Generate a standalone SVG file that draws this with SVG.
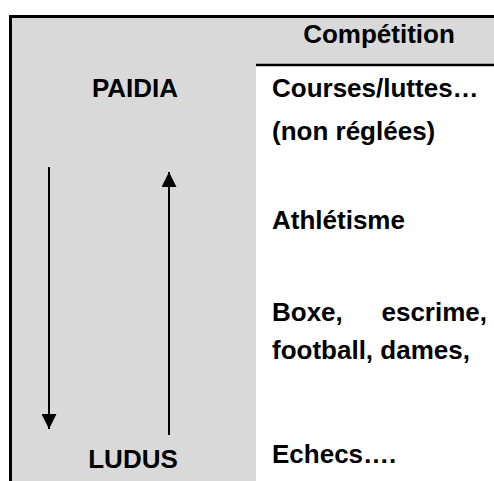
<svg xmlns="http://www.w3.org/2000/svg" width="494" height="481" viewBox="0 0 494 481">
<style>
text{font-family:"Liberation Sans",Arial,sans-serif;font-weight:bold;font-size:26px;fill:#000}
.c{text-anchor:middle}
.ln{stroke:#000;stroke-width:2;fill:none}
</style>
<defs>
<marker id="ah" markerWidth="16" markerHeight="15" refX="15" refY="7.5" orient="auto" markerUnits="userSpaceOnUse">
<path d="M0,0 L15,7.5 L0,15 Z" fill="#000"/>
</marker>
</defs>
<rect width="494" height="481" fill="#fff"/>
<g id="frame">
<rect x="10" y="16" width="484" height="50" fill="#d9d9d9"/>
<rect x="10" y="16" width="246" height="465" fill="#d9d9d9"/>
<line x1="256" y1="65" x2="494" y2="65" stroke="#000" stroke-width="2.5"/>
<line x1="10.5" y1="16.5" x2="494" y2="16.5" stroke="#000" stroke-width="3"/>
<line x1="10.5" y1="15" x2="10.5" y2="481" stroke="#000" stroke-width="3"/>
</g>
<g id="header"><text class="c" x="379" y="43">Compétition</text></g>
<g id="paidia"><text class="c" x="135" y="97">PAIDIA</text></g>
<g id="ludus"><text class="c" x="133" y="468">LUDUS</text></g>
<g id="col">
<text x="272" y="97">Courses/luttes…</text>
<text x="272" y="140">(non réglées)</text>
<text x="272" y="229">Athlétisme</text>
<text><tspan x="272" y="321">Boxe,</tspan><tspan x="487" y="321" text-anchor="end">escrime,</tspan></text>
<text x="272" y="359">football, dames,</text>
<text x="272" y="463">Echecs….</text>
</g>
<g id="connectors">
<line class="ln" x1="49" y1="167" x2="49" y2="429" marker-end="url(#ah)"/>
<line class="ln" x1="169" y1="435" x2="169" y2="172" marker-end="url(#ah)"/>
</g>
</svg>
